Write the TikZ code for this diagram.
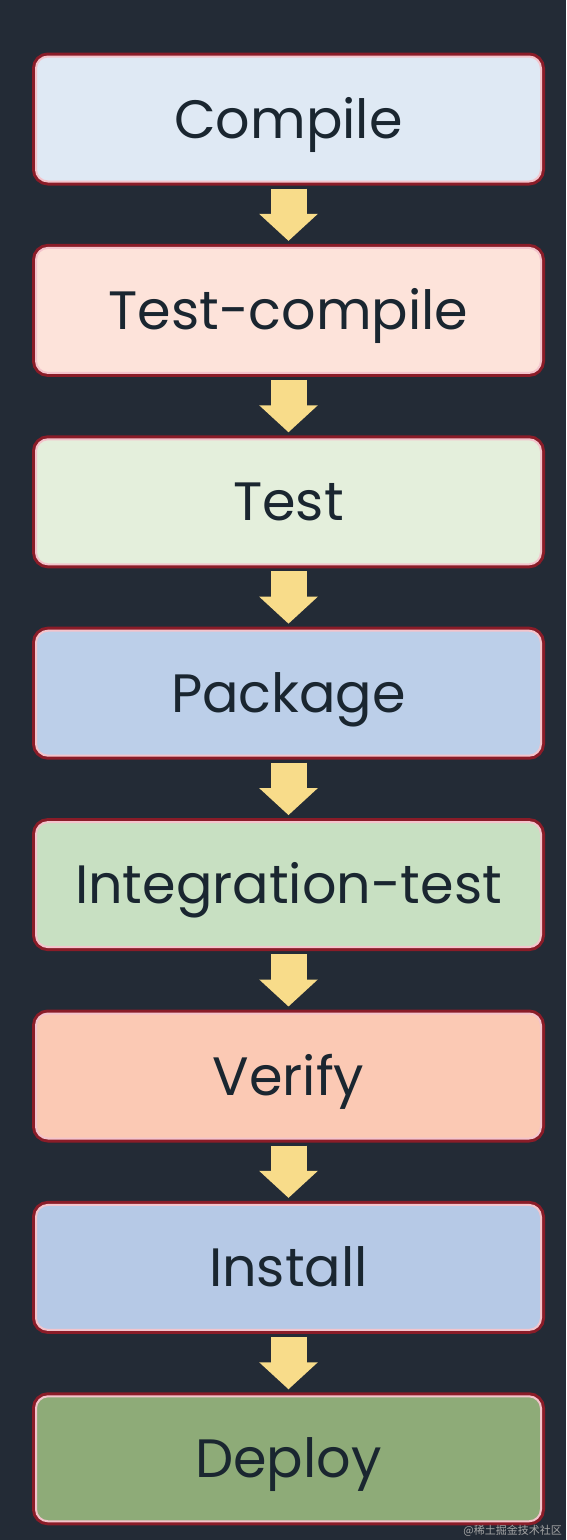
\documentclass[tikz,border=0pt]{standalone}
\usepackage{fontspec}
\usepackage{xcolor}
\usepackage{tikz}
\usetikzlibrary{positioning,arrows.meta}
\newfontfamily\stepfont{Poppins}
\newfontfamily\cjk{Noto Sans CJK SC}

\definecolor{pagebg}{HTML}{232B36}
\definecolor{stepedge}{HTML}{8A1C28}
\definecolor{stepglow}{HTML}{F4C4CC}
\definecolor{steptext}{HTML}{1A2630}
\definecolor{arrowfill}{HTML}{F8DC8A}
\definecolor{compilefill}{HTML}{DFE9F4}
\definecolor{testcompilefill}{HTML}{FDE3DA}
\definecolor{testfill}{HTML}{E4EFDC}
\definecolor{packagefill}{HTML}{BCCFE9}
\definecolor{integrationfill}{HTML}{C8E0C2}
\definecolor{verifyfill}{HTML}{FBC9B4}
\definecolor{installfill}{HTML}{B6C9E6}
\definecolor{deployfill}{HTML}{8EAB78}

\tikzset{
  stepbox/.style={rectangle, rounded corners=12pt, minimum width=505pt, minimum height=125pt,
    preaction={draw=stepedge, line width=8pt}, draw=stepglow, line width=2pt,
    text=steptext, font=\stepfont\fontsize{54}{58}\selectfont,
    text height=38pt, text depth=0pt},
  flowarrow/.style={draw=arrowfill, line width=36pt, line cap=butt,
    -{Triangle[width=57pt, length=27pt]}, shorten <=6pt, shorten >=6pt}
}

\begin{document}
\begin{tikzpicture}[node distance=64.4pt]
    \useasboundingbox[fill=pagebg] (0,0) rectangle (566pt,-1540pt);
    \node[stepbox, fill=compilefill] (compile) at (288.5pt,-119pt) {Compile};
    \node[stepbox, fill=testcompilefill, below=of compile] (testcompile) {Test-compile};
    \node[stepbox, fill=testfill, below=of testcompile] (test) {Test};
    \node[stepbox, fill=packagefill, below=of test] (package) {Package};
    \node[stepbox, fill=integrationfill, below=of package] (integration) {Integration-test};
    \node[stepbox, fill=verifyfill, below=of integration] (verify) {Verify};
    \node[stepbox, fill=installfill, below=of verify] (install) {Install};
    \node[stepbox, fill=deployfill, below=of install] (deploy) {Deploy};
    % phase arrows
    \foreach \from/\to in {compile/testcompile, testcompile/test, test/package,
      package/integration, integration/verify, verify/install, install/deploy}
      \draw[flowarrow] (\from) -- (\to);
    \node[anchor=south east, text=gray!70, font=\cjk\fontsize{11}{12}\selectfont, inner sep=1pt]
      (mark) at (563pt,-1538pt) {@稀土掘金技术社区};
  \end{tikzpicture}
\end{document}
